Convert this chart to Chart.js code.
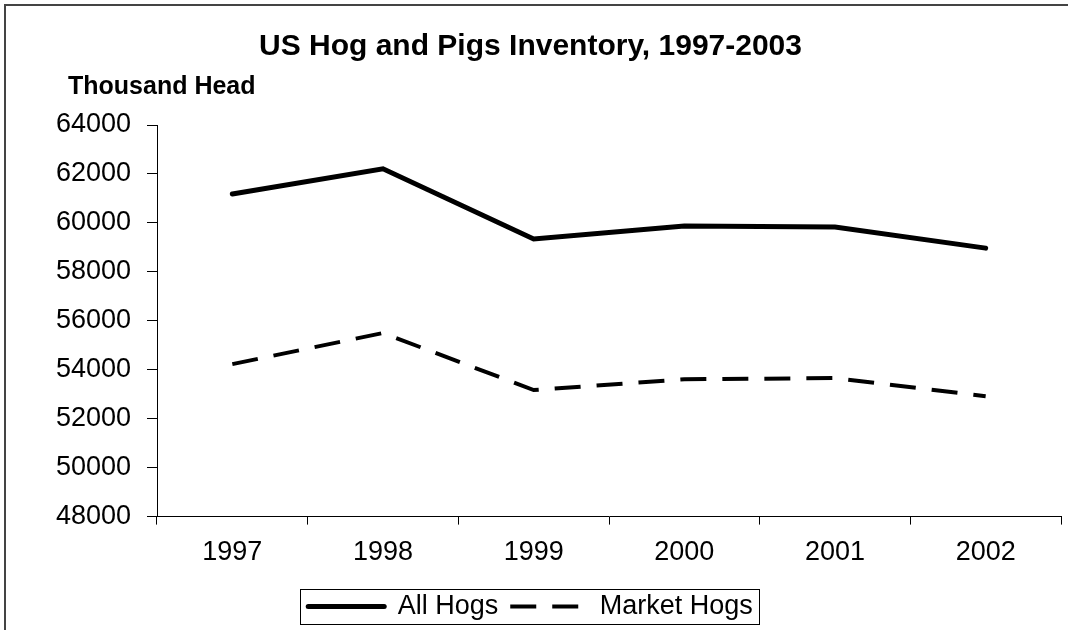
<!DOCTYPE html>
<html>
<head>
<meta charset="utf-8">
<script src="https://cdn.jsdelivr.net/npm/chart.js@4.4.1/dist/chart.umd.min.js"></script>
<style>
body { margin: 0; background: #fff; }
#wrap { width: 1068px; height: 630px; }
</style>
</head>
<body>
<div id="wrap"><canvas id="Graf"></canvas></div>
<script>
var years = ["1997", "1998", "1999", "2000", "2001", "2002"];
var allHogs = [61180, 62210, 59340, 59870, 59830, 58970];
var marketHogs = [54230, 55500, 53170, 53610, 53660, 52920];
var yTicks = [48000, 50000, 52000, 54000, 56000, 58000, 60000, 62000, 64000];
var chartTitle = "US Hog and Pigs Inventory, 1997-2003";
var unitLabel = "Thousand Head";

var fontName = "'Liberation Sans', Arial, sans-serif";

// frame, unit label and the box round the legend
var extras = {
    id: 'extras',
    beforeDraw: function(chart) {
        var ctx = chart.ctx;
        ctx.save();
        ctx.fillStyle = '#fff';
        ctx.fillRect(0, 0, chart.width, chart.height);
        ctx.strokeStyle = '#444';
        ctx.lineWidth = 2;
        ctx.beginPath();
        ctx.moveTo(5, chart.height);
        ctx.lineTo(5, 5);
        ctx.lineTo(chart.width, 5);
        ctx.stroke();
        ctx.restore();
    },
    afterDraw: function(chart) {
        var ctx = chart.ctx;
        var area = chart.chartArea;
        ctx.save();
        ctx.font = 'bold 25px ' + fontName;
        ctx.fillStyle = '#000';
        ctx.textBaseline = 'middle';
        ctx.fillText(unitLabel, area.left - 89, area.top - 38);

        var boxes = chart.legend.legendHitBoxes;
        if (boxes && boxes.length) {
            var l = boxes[0].left, r = 0, t = boxes[0].top, b = 0;
            boxes.forEach(function(h) {
                l = Math.min(l, h.left);
                r = Math.max(r, h.left + h.width);
                t = Math.min(t, h.top);
                b = Math.max(b, h.top + h.height);
            });
            ctx.strokeStyle = '#000';
            ctx.lineWidth = 1;
            ctx.strokeRect(Math.round(l - 8) + 0.5, Math.round(t - 4) + 0.5, Math.round(r - l + 14), Math.round(b - t + 8));
        }
        ctx.restore();
    }
};

var graf = new Chart("Graf", {
    type: "line",
    data: {
        labels: years,
        datasets: [{
            label: "All Hogs",
            data: allHogs,
            borderColor: "#000",
            backgroundColor: "#000",
            borderWidth: 5,
            borderCapStyle: "round",
            borderJoinStyle: "miter",
            pointRadius: 0,
            pointHoverRadius: 0,
            fill: false,
            tension: 0
        }, {
            label: "Market Hogs",
            data: marketHogs,
            borderColor: "#000",
            backgroundColor: "#000",
            borderWidth: 4,
            borderDash: [26, 16],
            borderCapStyle: "butt",
            borderJoinStyle: "miter",
            pointRadius: 0,
            pointHoverRadius: 0,
            fill: false,
            tension: 0
        }]
    },
    options: {
        responsive: true,
        maintainAspectRatio: false,
        animation: false,
        layout: {
            padding: { left: 0, right: 7, top: 0, bottom: 0 }
        },
        plugins: {
            title: {
                display: true,
                text: chartTitle,
                color: "#000",
                font: { family: fontName, size: 30, weight: "bold" },
                padding: { top: 29, bottom: 60 }
            },
            legend: {
                position: "bottom",
                labels: {
                    color: "#000",
                    font: { family: fontName, size: 27 },
                    usePointStyle: true,
                    pointStyle: "line",
                    pointStyleWidth: 76,
                    padding: 12,
                    generateLabels: function(chart) {
                        var items = Chart.defaults.plugins.legend.labels.generateLabels(chart);
                        items.forEach(function(item, i) {
                            var ds = chart.data.datasets[i];
                            item.lineDash = ds.borderDash || [];
                            item.lineWidth = ds.borderWidth;
                            item.lineCap = ds.borderCapStyle;
                        });
                        return items;
                    }
                }
            },
            tooltip: { enabled: false }
        },
        scales: {
            x: {
                offset: true,
                grid: { offset: true, drawOnChartArea: false, tickLength: 8, color: "#000" },
                border: { color: "#000" },
                ticks: {
                    color: "#000",
                    font: { family: fontName, size: 27 },
                    padding: 12,
                    maxRotation: 0
                }
            },
            y: {
                min: 48000,
                max: 64000,
                afterBuildTicks: function(scale) {
                    scale.ticks = yTicks.map(function(v) { return { value: v }; });
                },
                afterFit: function(scale) {
                    scale.width = 157;
                },
                grid: { drawOnChartArea: false, tickLength: 10, color: "#000" },
                border: { color: "#000" },
                ticks: {
                    color: "#000",
                    font: { family: fontName, size: 27 },
                    padding: 16,
                    callback: function(v) { return String(v); }
                }
            }
        }
    },
    plugins: [extras]
});
</script>
</body>
</html>
